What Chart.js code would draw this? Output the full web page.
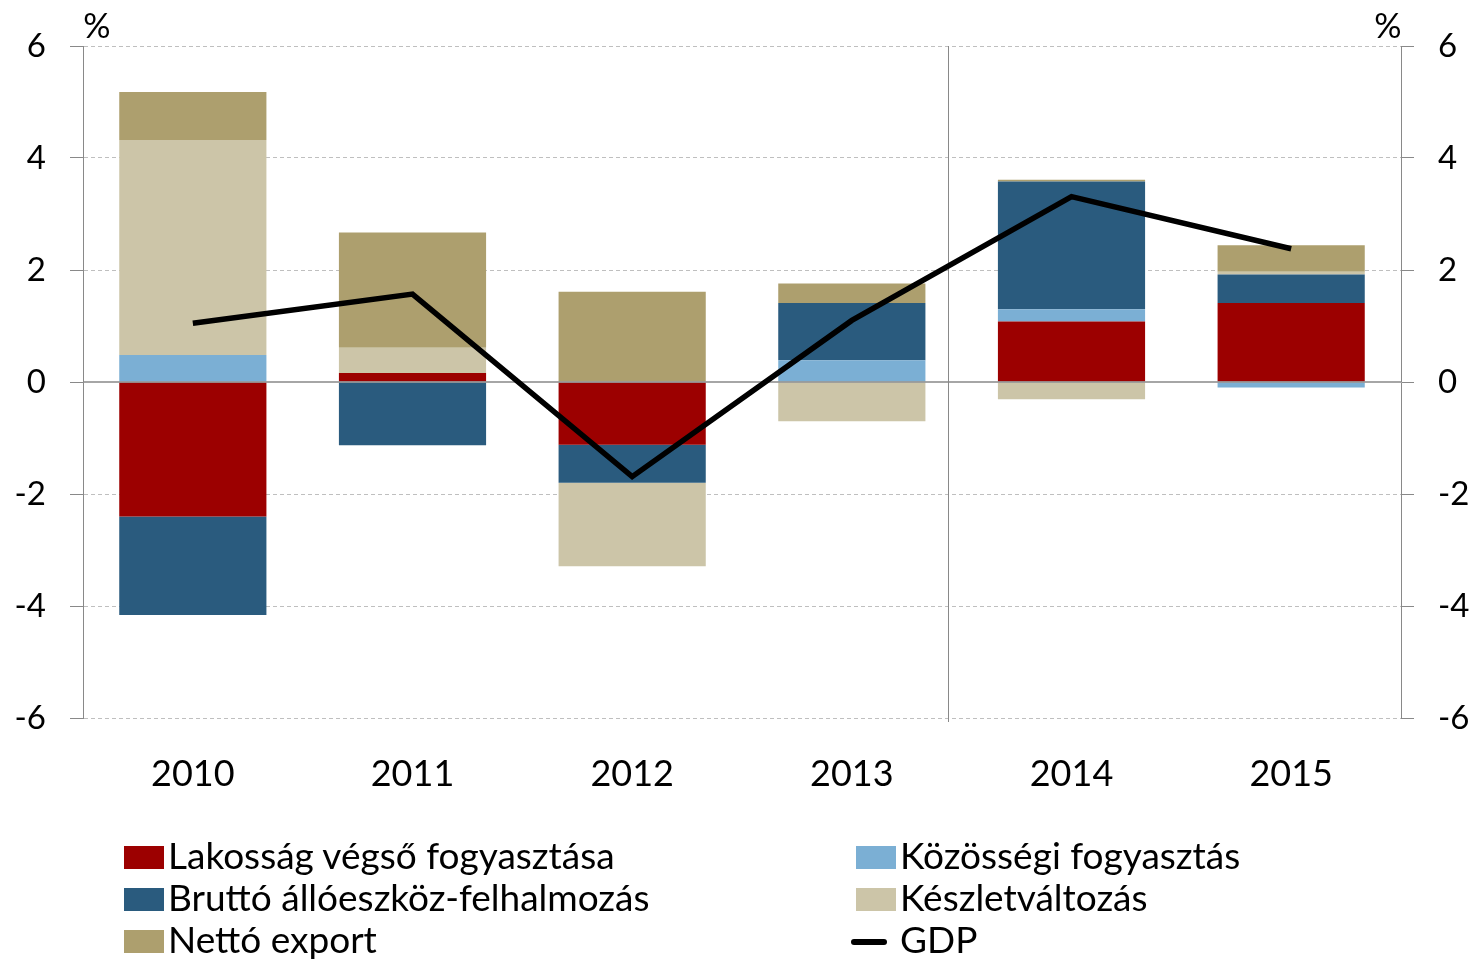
<!DOCTYPE html>
<html>
<head>
<meta charset="utf-8">
<script src="https://cdn.jsdelivr.net/npm/chart.js@4.4.1/dist/chart.umd.min.js"></script>
<style>
  body { margin: 0; background: #fff; }
  #wrap { position: relative; width: 1474px; height: 959px; font-family: Lato, "Open Sans", sans-serif; }
  #legend { position: absolute; left: 124px; top: 834px; display: grid; grid-template-columns: 732px auto; font-size: 37px; line-height: 42px; color: #000; white-space: nowrap; }
  .item .box { display: inline-block; width: 40px; height: 23px; margin-right: 4px; vertical-align: baseline; }
  .item .line { display: inline-block; width: 36px; height: 6px; border-radius: 3px; background: #000; margin-left: -5px; margin-right: 13px; vertical-align: 8px; }
</style>
</head>
<body>
<div id="wrap">
  <canvas id="chart" width="1474" height="959"></canvas>
  <div id="legend"></div>
</div>
<script>
const years = ["2010", "2011", "2012", "2013", "2014", "2015"];
const lakossag = [-2.4, 0.16, -1.12, 0, 1.08, 1.41];
const kozossegi = [0.48, 0, 0, 0.39, 0.22, -0.1];
const brutto = [-1.76, -1.13, -0.68, 1.02, 2.28, 0.51];
const keszlet = [3.84, 0.45, -1.49, -0.7, -0.31, 0.05];
const netto = [0.86, 2.06, 1.61, 0.35, 0.03, 0.47];
const gdp = [1.05, 1.57, -1.69, 1.1, 3.31, 2.38];
const yTicks = [-6, -4, -2, 0, 2, 4, 6];
// position of the thin vertical divider, in category units
const dividerAt = 3.44;

const GRID = "#BFBFBF";
const AXIS = "#898989";
const FONT = "Lato, 'Open Sans', sans-serif";

const barSeries = [
  { label: "Lakosság végső fogyasztása", data: lakossag, color: "#9C0000" },
  { label: "Közösségi fogyasztás", data: kozossegi, color: "#7BAFD4" },
  { label: "Bruttó állóeszköz-felhalmozás", data: brutto, color: "#2A5B7E" },
  { label: "Készletváltozás", data: keszlet, color: "#CCC5A8" },
  { label: "Nettó export", data: netto, color: "#AD9F6E" },
];

const datasets = barSeries.map((s) => ({
  type: "bar",
  label: s.label,
  data: s.data,
  backgroundColor: s.color,
  borderWidth: 0,
  yAxisID: "y",
  stack: "gdp",
  barPercentage: 0.67,
  categoryPercentage: 1,
}));

datasets.push({
  type: "line",
  label: "GDP",
  data: gdp,
  borderColor: "#000",
  borderWidth: 5.5,
  pointRadius: 0,
  tension: 0,
  yAxisID: "y2",
  order: -1,
});

// zero line and divider go over the bars but under the GDP line
const overlayPlugin = {
  id: "overlay",
  beforeDatasetDraw(chart, args) {
    if (args.meta.type !== "line") return;
    const { ctx, chartArea, scales } = chart;
    const y0 = scales.y.getPixelForValue(0);
    ctx.save();
    ctx.strokeStyle = AXIS;
    ctx.lineWidth = 1.5;
    ctx.beginPath();
    ctx.moveTo(chartArea.left, y0);
    ctx.lineTo(chartArea.right, y0);
    ctx.stroke();
    const xd = Math.round(scales.x.getPixelForValue(dividerAt)) + 0.5;
    ctx.lineWidth = 1;
    ctx.beginPath();
    ctx.moveTo(xd, chartArea.top);
    ctx.lineTo(xd, chartArea.bottom + 4);
    ctx.stroke();
    ctx.restore();
  },
  afterDraw(chart) {
    const { ctx, chartArea } = chart;
    ctx.save();
    ctx.fillStyle = "#000";
    ctx.font = `34px ${FONT}`;
    ctx.textAlign = "center";
    ctx.textBaseline = "middle";
    ctx.fillText("%", chartArea.left + 14, 27);
    ctx.fillText("%", chartArea.right - 13, 27);
    ctx.restore();
  },
};

function yAxis(position, width, showGrid) {
  return {
    type: "linear",
    position,
    min: -6,
    max: 6,
    stacked: position === "left",
    afterBuildTicks: (scale) => {
      scale.ticks = yTicks.map((v) => ({ value: v }));
    },
    afterFit: (scale) => {
      scale.width = width;
    },
    grid: {
      drawOnChartArea: showGrid,
      color: (ctx) => (ctx.tick && ctx.tick.value === 0 ? "rgba(0,0,0,0)" : GRID),
      lineWidth: 1,
      tickLength: 13,
      tickColor: AXIS,
    },
    border: { display: true, color: AXIS, width: 1, dash: [4, 3] },
    ticks: {
      color: "#000",
      padding: 24,
      font: { family: FONT, size: 33 },
    },
  };
}

new Chart(document.getElementById("chart"), {
  data: { labels: years, datasets },
  options: {
    responsive: false,
    animation: false,
    layout: { padding: { top: 46, left: 0, right: 0, bottom: 0 } },
    scales: {
      x: {
        stacked: true,
        grid: { display: false },
        border: { display: false },
        afterFit: (scale) => {
          scale.height = 241;
        },
        ticks: {
          color: "#000",
          padding: 27,
          maxRotation: 0,
          font: { family: FONT, size: 36 },
        },
      },
      y: yAxis("left", 83, true),
      y2: yAxis("right", 73, false),
    },
    plugins: {
      legend: { display: false },
      tooltip: { enabled: false },
    },
  },
  plugins: [overlayPlugin],
});

// legend in two columns, filled row by row like the original
function buildLegend() {
  const el = document.getElementById("legend");
  datasets.forEach((ds) => {
    const item = document.createElement("div");
    item.className = "item";
    const mark = document.createElement("span");
    if (ds.type === "line") {
      mark.className = "line";
    } else {
      mark.className = "box";
      mark.style.background = ds.backgroundColor;
    }
    item.appendChild(mark);
    item.appendChild(document.createTextNode(ds.label));
    el.appendChild(item);
  });
}
buildLegend();
</script>
</body>
</html>
